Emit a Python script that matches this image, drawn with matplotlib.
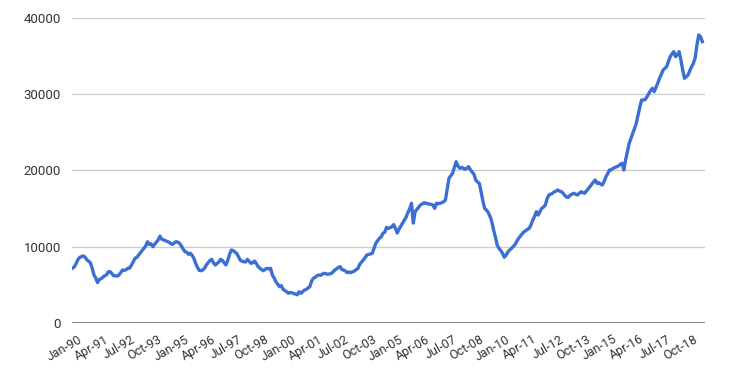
import matplotlib
matplotlib.use("Agg")
import matplotlib.pyplot as plt
import matplotlib.transforms as mtransforms
import numpy as np

start_year = 1990
start_month = 1

values = [
    # 1990
    7200, 7350, 7800, 8300, 8600, 8700, 8800, 8650, 8300, 8100, 7900, 7200,
    # 1991
    6300, 5900, 5300, 5700, 5800, 6000, 6200, 6300, 6700, 6750, 6500, 6200,
    # 1992
    6200, 6150, 6300, 6600, 6950, 6900, 7000, 7170, 7200, 7600, 8000, 8480,
    # 1993
    8600, 8900, 9200, 9500, 9800, 10100, 10660, 10300, 10400, 10010, 10300, 10600,
    # 1994
    10900, 11400, 11000, 10900, 10800, 10700, 10600, 10450, 10300, 10500, 10660, 10600,
    # 1995
    10450, 10100, 9700, 9350, 9300, 9000, 9150, 8900, 8480, 7830, 7300, 6900,
    # 1996
    6860, 6950, 7200, 7610, 7900, 8200, 8350, 7900, 7610, 7800, 8000, 8350,
    # 1997
    8200, 7900, 7610, 8200, 9000, 9570, 9500, 9300, 9140, 8700, 8260, 8100,
    # 1998
    8040, 8000, 8350, 8100, 7830, 7900, 8130, 7800, 7390, 7200, 7000, 6860,
    # 1999
    7050, 7170, 7100, 7170, 6300, 5900, 5420, 5100, 4760, 4900, 4420, 4250,
    # 2000
    4100, 3900, 4000, 3970, 3850, 3800, 3700, 4100, 3900, 4100, 4330, 4400,
    # 2001
    4600, 4760, 5500, 5860, 6000, 6200, 6300, 6250, 6400, 6520, 6450, 6400,
    # 2002
    6430, 6500, 6700, 6950, 7100, 7300, 7390, 7000, 6950, 6800, 6600, 6700,
    # 2003
    6600, 6730, 6800, 7000, 7170, 7700, 8000, 8260, 8600, 8920, 9000, 9050,
    # 2004
    9140, 9800, 10450, 10800, 11110, 11300, 11760, 11900, 12550, 12400, 12500, 12630,
    # 2005
    12900, 12400, 11800, 12300, 12700, 13100, 13500, 13900, 14500, 15000, 15700, 13100,
    # 2006
    14600, 14900, 15200, 15480, 15600, 15780, 15700, 15650, 15610, 15550, 15480, 15040,
    # 2007
    15700, 15650, 15700, 15780, 15900, 16130, 17600, 18980, 19300, 19630, 20400, 21150,
    # 2008
    20600, 20290, 20400, 20300, 20160, 20300, 20500, 20100, 19800, 19500, 18750, 18500,
    # 2009
    18320, 17200, 16000, 15040, 14800, 14500, 14000, 13300, 12200, 11300, 10230, 9800,
    # 2010
    9500, 9140, 8620, 8900, 9300, 9570, 9800, 10010, 10300, 10700, 11110, 11400,
    # 2011
    11700, 11970, 12100, 12300, 12420, 12900, 13510, 14000, 14600, 14160, 14600, 15040,
    # 2012
    15200, 15480, 16300, 16790, 16900, 17010, 17200, 17300, 17440, 17300, 17220, 17000,
    # 2013
    16700, 16480, 16500, 16790, 16900, 17010, 16900, 16790, 17000, 17220, 17100, 17010,
    # 2014
    17300, 17600, 17880, 18200, 18500, 18750, 18320, 18400, 18200, 18100, 18600, 19190,
    # 2015
    19600, 20070, 20100, 20290, 20400, 20500, 20600, 20800, 20950, 20070, 21380, 22500,
    # 2016
    23570, 24200, 24880, 25500, 26190, 27300, 28370, 29250, 29250, 29300, 29680, 30100,
    # 2017
    30500, 30780, 30340, 30900, 31440, 32090, 32600, 33180, 33400, 33620, 34300, 34930,
    # 2018
    35300, 35590, 34930, 35200, 35590, 34500, 33180, 32090, 32300, 32530, 33100, 33620,
    # 2019
    34060, 34800, 36500, 37770, 37550, 36900,
]

tick_labels = ["Jan-90", "Apr-91", "Jul-92", "Oct-93", "Jan-95", "Apr-96", "Jul-97",
               "Oct-98", "Jan-00", "Apr-01", "Jul-02", "Oct-03", "Jan-05", "Apr-06",
               "Jul-07", "Oct-08", "Jan-10", "Apr-11", "Jul-12", "Oct-13", "Jan-15",
               "Apr-16", "Jul-17", "Oct-18"]
tick_step_months = 15

y_ticks = [0, 10000, 20000, 30000, 40000]

plt.rcParams['font.family'] = ['Roboto', 'DejaVu Sans']

fig = plt.figure(figsize=(7.42, 3.85), dpi=100)
ax = fig.add_axes([72 / 742, 1 - 323 / 385, (705 - 72) / 742, (323 - 18) / 385])

x = np.arange(len(values))
ax.plot(x, values, color='#3c6fd4', linewidth=2.4, solid_joinstyle='round')

ax.set_xlim(-0.3, 354.5)
ax.set_ylim(0, 40000)
ax.set_yticks(y_ticks)
ax.set_yticklabels([str(v) for v in y_ticks])
ax.yaxis.grid(True, color='#cccccc', linewidth=0.9)
ax.set_axisbelow(True)
ax.axhline(0, color='#888888', linewidth=1.5, zorder=3)

ax.set_xticks(np.arange(len(tick_labels)) * tick_step_months)
ax.set_xticklabels(tick_labels, rotation=30, ha='right', rotation_mode='anchor')

for s in ax.spines.values():
    s.set_visible(False)
ax.tick_params(axis='both', length=0, colors='#333333')
ax.tick_params(axis='y', labelsize=9.5, pad=8)
ax.tick_params(axis='x', labelsize=9, pad=7)

offset = mtransforms.ScaledTranslation(5 / 100, 0, fig.dpi_scale_trans)
for lbl in ax.get_xticklabels():
    lbl.set_transform(lbl.get_transform() + offset)

fig.savefig("out.png", dpi=100, facecolor='white')
